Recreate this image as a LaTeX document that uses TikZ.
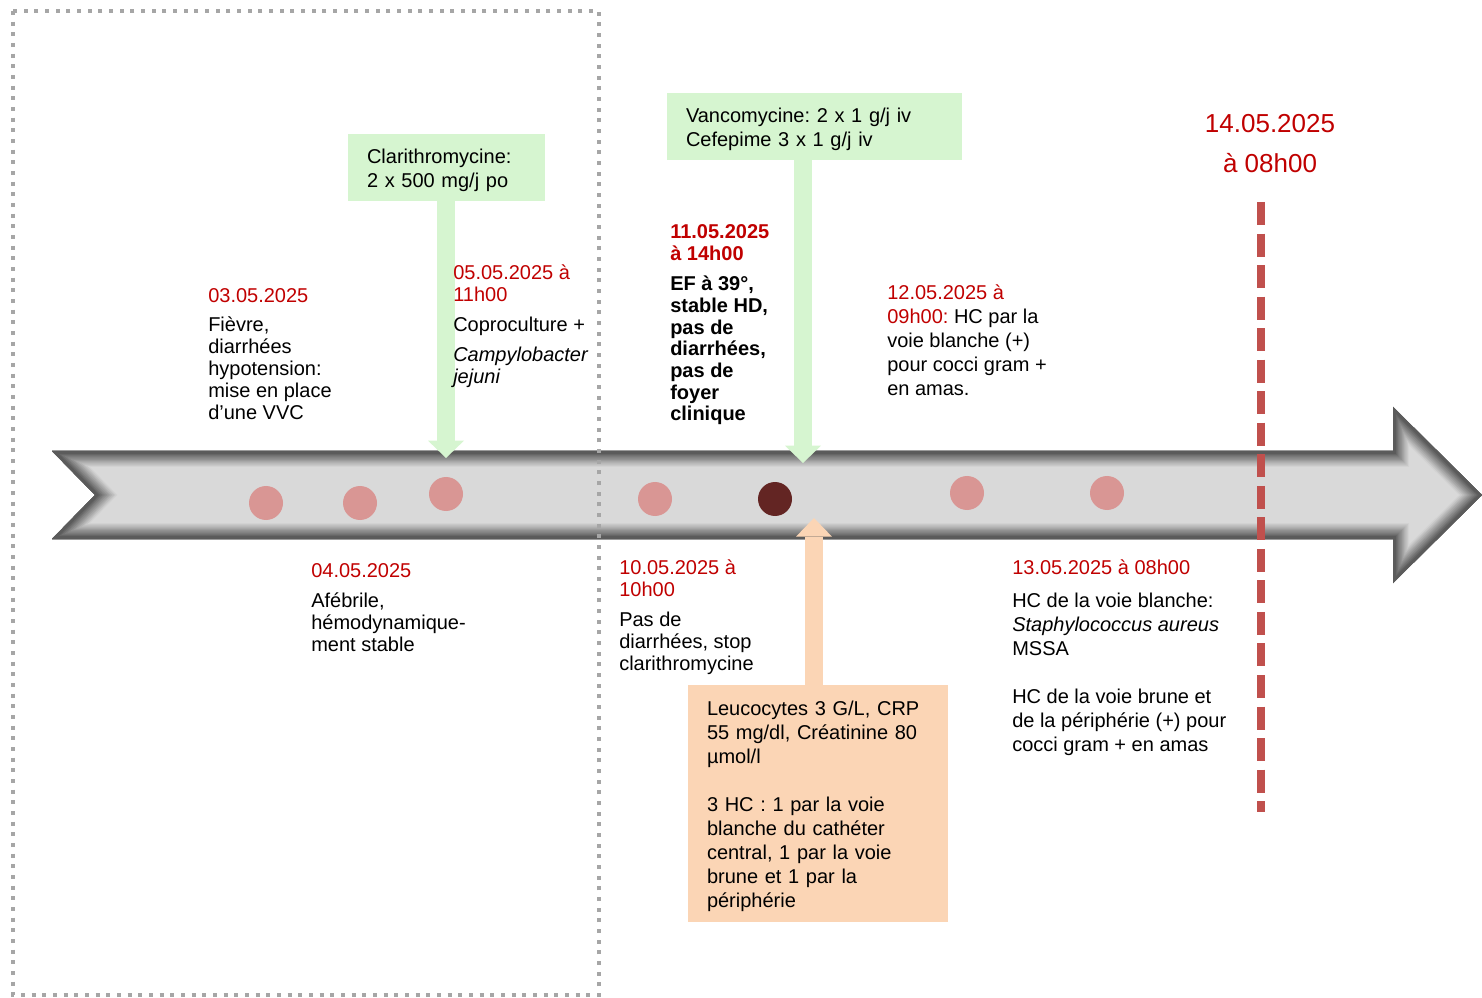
\documentclass[tikz,border=0pt]{standalone}
\usepackage{fontspec}
\setmainfont{Liberation Sans}
\usetikzlibrary{arrows.meta, positioning}
\frenchspacing

\definecolor{datered}{RGB}{192,0,0}
\definecolor{boxgreen}{RGB}{214,245,208}
\definecolor{boxorange}{RGB}{251,213,181}
\definecolor{dotpink}{RGB}{217,150,148}
\definecolor{dotdark}{RGB}{99,37,35}
\definecolor{nowred}{RGB}{192,80,77}
\definecolor{framegray}{RGB}{166,166,166}
\definecolor{arrowgray}{RGB}{217,217,217}

\begin{document}
\begin{tikzpicture}[
    x=0.75pt, y=-0.75pt,
    % Style definitions (multi-line nodes sit on the baseline of their last line)
    txt/.style={anchor=base west, align=left, inner sep=0pt, font=\fontsize{15}{16.5}\selectfont},
    txtwide/.style={txt, font=\fontsize{15}{18}\selectfont},
    datum/.style={txt, text=datered},
    dot/.style={circle, fill=dotpink, minimum size=25.5pt, inner sep=0pt},
    drug/.style={rectangle, fill=boxgreen, align=left, inner xsep=14.25pt, inner ysep=0pt,
                 minimum height=50.25pt, font=\fontsize{15}{18}\selectfont,
                 execute at begin node={\rule{0pt}{15.5pt}}},
    labs/.style={drug, fill=boxorange},
    garrow/.style={line width=13.5pt, boxgreen, -{Triangle[width=27pt, length=13pt, line width=0pt]}},
    oarrow/.style={line width=13.5pt, boxorange, -{Triangle[width=27pt, length=14pt, line width=0pt]}},
    nowline/.style={line width=5.6pt, nowred, dash pattern=on 17.25pt off 6.4pt},
]
\useasboundingbox (0,0) rectangle (1482,998);

% Timeline arrow
\coordinate (tA) at (52,451);
\coordinate (tB) at (1393,451);
\coordinate (tC) at (1393,407);
\coordinate (tD) at (1482,495);
\coordinate (tE) at (1393,583);
\coordinate (tF) at (1393,539);
\coordinate (tG) at (52,539);
\coordinate (tH) at (95,495);
\begin{scope}
    \clip (tA) -- (tB) -- (tC) -- (tD) -- (tE) -- (tF) -- (tG) -- (tH) -- cycle;
    \fill[arrowgray] (tA) -- (tB) -- (tC) -- (tD) -- (tE) -- (tF) -- (tG) -- (tH) -- cycle;
    \foreach \i in {0,...,11}
        \draw[line width={24pt-1.8pt*\i}, arrowgray!\the\numexpr97-5*\i\relax!black]
            (tA) -- (tB) -- (tC) -- (tD) -- (tE) -- (tF) -- (tG) -- (tH) -- cycle;
\end{scope}

% Events on the timeline
\node[dot] (e03) at (266,503) {};
\node[dot] (e04) at (360,503) {};
\node[dot] (e05) at (446,494) {};
\node[dot] (e10) at (655,499) {};
\node[dot, fill=dotdark] (e11) at (775,499) {};
\node[dot] (e12) at (967,493) {};
\node[dot] (e13) at (1107,493) {};

% Treatment and lab boxes
\node[drug, text width=119.25pt] (clari) at (446.5,167.5) {Clarithromycine:\\2 x 500 mg/j po};
\node[drug, text width=192.75pt] (vanco) at (814.5,126.5) {Vancomycine: 2 x 1 g/j iv\\Cefepime 3 x 1 g/j iv};
\node[labs, text width=166.5pt, minimum height=177.75pt] (lab) at (818,803.5)
    {Leucocytes 3 G/L, CRP\\55 mg/dl, Créatinine 80\\µmol/l\\[18pt]3 HC : 1 par la voie\\blanche du cathéter\\central, 1 par la voie\\brune et 1 par la\\périphérie};

\coordinate (clarihit) at (446,458);
\coordinate (vancohit) at (803,463);
\coordinate (labhit) at (814,518);
\draw[garrow] (clari.south -| clarihit) -- (clarihit);
\draw[garrow] (vanco.south -| vancohit) -- (vancohit);
\draw[oarrow] (lab.north -| labhit) -- (labhit);

% Texts above the timeline
\node[datum] (d03) at (208,303) {03.05.2025};
\node[txt] (t03) at (208,420) {Fièvre,\\diarrhées\\hypotension:\\mise en place\\d’une VVC};
\node[datum] (d05) at (453,302) {05.05.2025 à\\11h00};
\node[txt] (t05) at (453,384) {Coproculture +\\[6pt]\textit{Campylobacter}\\\textit{jejuni}};
\node[datum, font=\bfseries\fontsize{15}{16.5}\selectfont] (d11) at (670,261) {11.05.2025\\à 14h00};
\node[txt, font=\bfseries\fontsize{15}{16.25}\selectfont] (t11) at (670,421)
    {EF à 39°,\\stable HD,\\pas de\\diarrhées,\\pas de\\foyer\\clinique};
\node[txtwide] (t12) at (887,396)
    {{\color{datered}12.05.2025 à}\\{\color{datered}09h00:} HC par la\\voie blanche (+)\\pour cocci gram +\\en amas.};

% Texts below the timeline
\node[datum] (d04) at (311,577) {04.05.2025};
\node[txt] (t04) at (311,651) {Afébrile,\\hémodynamique-\\ment stable};
\node[datum] (d10) at (619,596) {10.05.2025 à\\10h00};
\node[txt] (t10) at (619,670) {Pas de\\diarrhées, stop\\clarithromycine};
\node[datum] (d13) at (1012,574) {13.05.2025 à 08h00};
\node[txtwide] (t13) at (1012,751)
    {HC de la voie blanche:\\\textit{Staphylococcus aureus}\\MSSA\\[18pt]HC de la voie brune et\\de la périphérie (+) pour\\cocci gram + en amas};

% Current time
\node[anchor=base, align=center, inner sep=0pt, text=datered, font=\fontsize{19.5}{30}\selectfont]
    (d14) at (1270,173) {14.05.2025\\à 08h00};
\coordinate (nowtop) at (1261,202);
\coordinate (nowbot) at (1261,812);
\draw[nowline] (nowtop) -- (nowbot);

% Frame round the first episode
\draw[framegray, line width=3pt, dash pattern=on 3pt off 5pt] (13,11) rectangle (599,995);

\end{tikzpicture}
\end{document}
